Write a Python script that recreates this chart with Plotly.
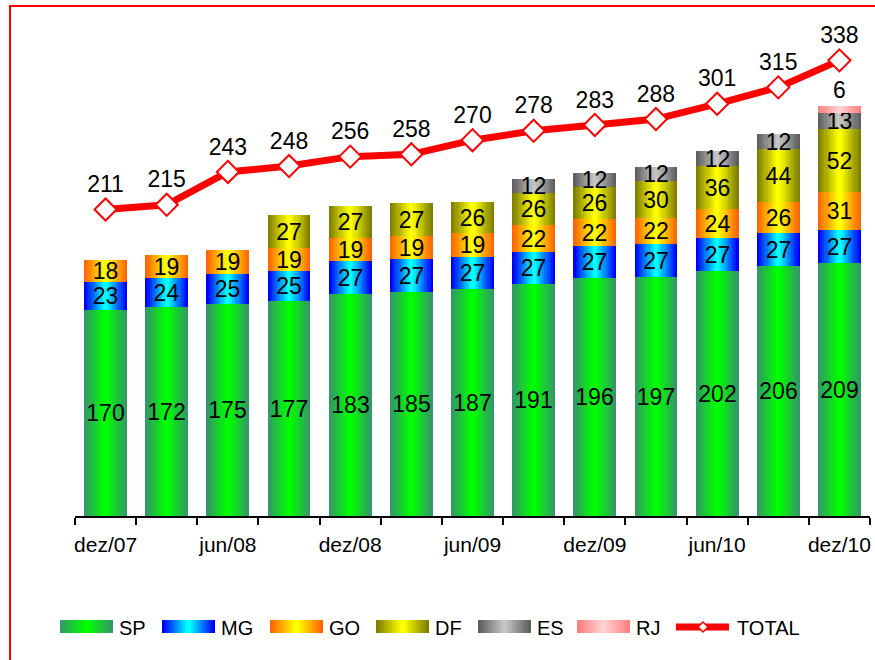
import plotly.graph_objects as go

# ── Data ────────────────────────────────────────────────────────────────────
PERIODS = ["dez/07", "mar/08", "jun/08", "set/08", "dez/08", "mar/09", "jun/09",
           "set/09", "dez/09", "mar/10", "jun/10", "set/10", "dez/10"]
SP = [170, 172, 175, 177, 183, 185, 187, 191, 196, 197, 202, 206, 209]
MG = [23, 24, 25, 25, 27, 27, 27, 27, 27, 27, 27, 27, 27]
GO = [18, 19, 19, 19, 19, 19, 19, 22, 22, 22, 24, 26, 31]
DF = [None, None, None, 27, 27, 27, 26, 26, 26, 30, 36, 44, 52]
ES = [None, None, None, None, None, None, None, 12, 12, 12, 12, 12, 13]
RJ = [None, None, None, None, None, None, None, None, None, None, None, None, 6]
TOTAL = [211, 215, 243, 248, 256, 258, 270, 278, 283, 288, 301, 315, 338]

# name, values, edge colour, centre colour
SERIES = [
    ("SP", SP, "#339966", "#00FF00"),
    ("MG", MG, "#0000FF", "#00FFFF"),
    ("GO", GO, "#FF6600", "#FFFF00"),
    ("DF", DF, "#808000", "#FFFF00"),
    ("ES", ES, "#5F5F5F", "#C4C4C4"),
    ("RJ", RJ, "#FF8080", "#FFD0D0"),
]

FONT = "Liberation Sans, Arial, sans-serif"
K = 10          # strips used to fake the horizontal gradient
BAR_W = 0.70
X = list(range(len(PERIODS)))


def mix(c1, c2, t):
    a = [int(c1[i:i + 2], 16) for i in (1, 3, 5)]
    b = [int(c2[i:i + 2], 16) for i in (1, 3, 5)]
    r = [round(a[j] + (b[j] - a[j]) * t) for j in range(3)]
    return f"rgb({r[0]},{r[1]},{r[2]})"


fig = go.Figure()

running = [0] * len(X)
for name, vals, edge, centre in SERIES:
    base = list(running)
    for i in range(K):
        fig.add_trace(go.Bar(
            x=X, y=vals, base=base, width=BAR_W * (K - i) / K,
            marker=dict(color=mix(edge, centre, i / (K - 1)), line=dict(width=0)),
            showlegend=False, hoverinfo="skip"))
    # transparent bar carrying the value labels
    fig.add_trace(go.Bar(
        x=X, y=vals, base=base, width=BAR_W, name=name,
        marker=dict(color="rgba(0,0,0,0)", line=dict(width=0)),
        text=[str(v) if v else "" for v in vals],
        textposition="outside" if name == "RJ" else "inside",
        insidetextanchor="middle", textangle=0, constraintext="none",
        textfont=dict(size=23, color="black", family=FONT),
        cliponaxis=False, showlegend=False))
    running = [r + (v or 0) for r, v in zip(running, vals)]

fig.add_trace(go.Scatter(
    x=X, y=TOTAL, yaxis="y2", name="TOTAL", mode="lines+markers+text",
    line=dict(color="#FF0000", width=7),
    marker=dict(symbol="diamond", size=17, color="white",
                line=dict(color="#FF0000", width=2)),
    text=[str(v) for v in TOTAL], textposition="top center",
    textfont=dict(size=23, color="black", family=FONT),
    cliponaxis=False, showlegend=False))

# ── Custom legend with gradient swatches (pixel -> paper helpers) ───────────
L, R, T, B = 75, 5, 31, 144
PW, PH = 875 - L - R, 660 - T - B


def px(xp):
    return (xp - L) / PW


def py(yp):
    return (660 - B - yp) / PH


shapes = []
annotations = []
LEG_X = [60, 162, 270, 376, 478, 577]
SW = 53
for (name, vals, edge, centre), x0 in zip(SERIES, LEG_X):
    for i in range(K):
        inset = SW * i / K / 2
        shapes.append(dict(type="rect", xref="paper", yref="paper",
                           x0=px(x0 + inset), x1=px(x0 + SW - inset),
                           y0=py(633), y1=py(620), line=dict(width=0),
                           fillcolor=mix(edge, centre, i / (K - 1)), layer="above"))
    annotations.append(dict(xref="paper", yref="paper", x=px(x0 + SW + 4), y=py(628),
                            text=name, showarrow=False, xanchor="left", yanchor="middle",
                            font=dict(size=20, color="black", family=FONT)))
# TOTAL legend entry
shapes.append(dict(type="line", xref="paper", yref="paper", x0=px(676), x1=px(729),
                   y0=py(627), y1=py(627), line=dict(color="#FF0000", width=7)))
shapes.append(dict(type="path", xref="paper", yref="paper", xsizemode="pixel",
                   ysizemode="pixel", xanchor=px(703), yanchor=py(627),
                   path="M-5,0 L0,5 L5,0 L0,-5 Z", fillcolor="white",
                   line=dict(color="#FF0000", width=1.5)))
annotations.append(dict(xref="paper", yref="paper", x=px(735), y=py(628),
                        text="TOTAL", showarrow=False, xanchor="left", yanchor="middle",
                        font=dict(size=20, color="black", family=FONT)))
# red frame around the chart
shapes.append(dict(type="rect", xref="paper", yref="paper", x0=px(10), y0=py(680),
                   x1=px(895), y1=py(6), line=dict(color="#FF0000", width=2),
                   fillcolor="rgba(0,0,0,0)"))

fig.update_layout(
    width=875, height=660,
    margin=dict(l=L, r=R, t=T, b=B),
    barmode="overlay", bargap=0,
    paper_bgcolor="white", plot_bgcolor="white",
    font=dict(family=FONT, size=20, color="black"),
    uniformtext=dict(minsize=23, mode="show"),
    xaxis=dict(range=[-0.5, len(X) - 0.5], showgrid=False, zeroline=False,
               showline=True, linecolor="black", linewidth=1.5,
               tickmode="array", tickvals=X[::2], ticktext=PERIODS[::2],
               ticks="outside", ticklen=9, tickcolor="rgba(0,0,0,0)",
               tickfont=dict(size=21, family=FONT, color="black"),
               minor=dict(tickmode="array", tickvals=[i - 0.5 for i in range(len(X) + 1)],
                          ticks="outside", ticklen=7, tickwidth=1.5, tickcolor="black")),
    yaxis=dict(range=[0, 400], visible=False, showgrid=False),
    yaxis2=dict(range=[-50, 363], overlaying="y", visible=False, showgrid=False),
    shapes=shapes, annotations=annotations,
    showlegend=False,
)

# drop the browser's default body margin so the figure sits at the page corner
fig.write_html("out.html", config={"displayModeBar": False},
               post_script="document.body.style.margin='0';")
